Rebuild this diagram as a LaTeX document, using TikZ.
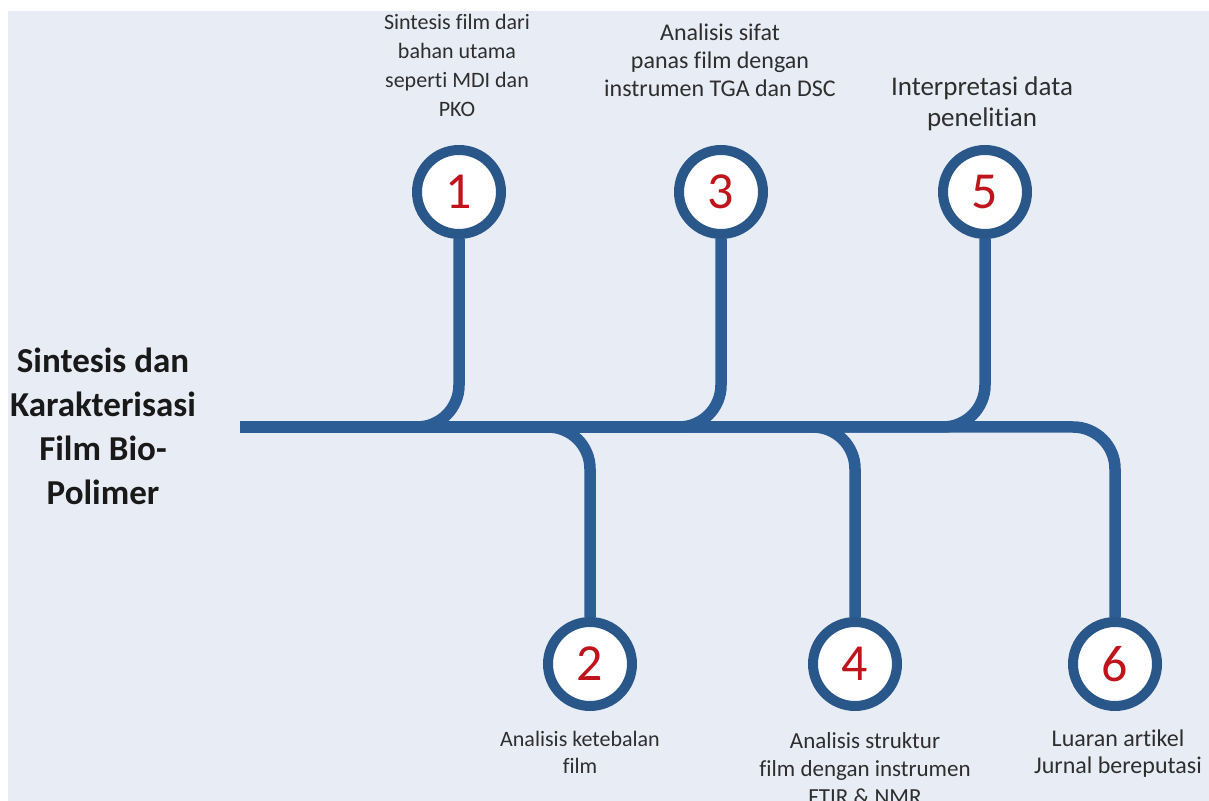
\documentclass[tikz,border=0pt]{standalone}
\usepackage{fontspec}
\setmainfont{Carlito}[Ligatures=NoCommon]
\usetikzlibrary{positioning}
\definecolor{spine}{HTML}{2C5D95}
\definecolor{ring}{HTML}{2A5789}
\definecolor{numred}{HTML}{C0141C}
\definecolor{paper}{HTML}{E8ECF4}
\definecolor{txt}{HTML}{2E2E2E}
\tikzset{bone/.style={draw=spine,line width=5.75pt,rounded corners=21pt},stepcirc/.style={circle,draw=ring,fill=white,line width=5pt,minimum size=42pt,inner sep=0pt,text=numred,font=\fontsize{26}{26}\selectfont},steplabel/.style={text=txt,align=center,inner sep=0pt},titlelabel/.style={text=black!90,align=center,inner sep=0pt,font=\fontsize{17.5}{22}\selectfont\bfseries}}

\begin{document}
\begin{tikzpicture}[x=.5pt,y=-.5pt]
\useasboundingbox (0,0) rectangle (1209,801);
\clip (0,0) rectangle (1209,801);
\fill[white] (0,0) rectangle (1209,801);
\fill[paper] (8,11) rectangle (1209,801);
% steps along the bone
\foreach \k/\x/\y in {1/459/192,3/721/192,5/985/192,2/590/664,4/855/664,6/1115/664}
\node[stepcirc] (c\k) at (\x,\y) {\k};
\coordinate (sp) at (240,427);
\draw[bone] (sp) -| (c6.north);
\foreach \k in {1,3,5}
\draw[bone] (c\k.south) |- (sp);
\foreach \k in {2,4}
\draw[bone] (c\k.north) |- (sp);
% texts
\node[titlelabel] (title) at (103,426) {Sintesis dan\\Karakterisasi\\Film Bio-\\Polimer};
\node[steplabel,font=\fontsize{11}{14.5}\selectfont] (t1) at (457,65) {Sintesis film dari\\bahan utama\\seperti MDI dan\\PKO};
\node[steplabel,font=\fontsize{12}{14}\selectfont] (t3) at (720,60) {Analisis sifat\\panas film dengan\\instrumen TGA dan DSC};
\node[steplabel,font=\fontsize{13.5}{15.5}\selectfont] (t5) at (982,104) {Interpretasi data\\penelitian};
\node[steplabel,font=\fontsize{11}{13.5}\selectfont] (t2) at (580,752) {Analisis ketebalan\\film};
\node[steplabel,font=\fontsize{11.5}{14}\selectfont] (t4) at (865,769) {Analisis struktur\\film dengan instrumen\\FTIR \& NMR};
\node[steplabel,font=\fontsize{12}{13.5}\selectfont] (t6) at (1118,754) {Luaran artikel\\Jurnal bereputasi};
\end{tikzpicture}
\end{document}
